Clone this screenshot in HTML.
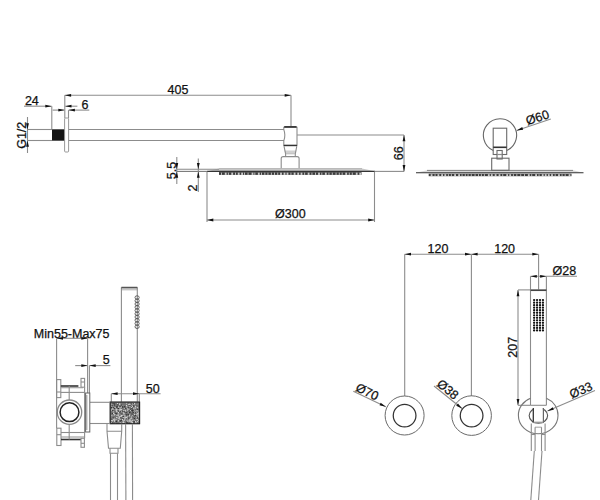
<!DOCTYPE html>
<html><head><meta charset="utf-8"><style>
html,body{margin:0;padding:0;background:#fff;}
body{width:600px;height:500px;overflow:hidden;}
svg{display:block;}
#w{width:600px;height:500px;}
text{font-family:"Liberation Sans", sans-serif;fill:#111;stroke:#111;stroke-width:0.25px;}
</style></head><body>
<div id="w"><svg width="600" height="500" viewBox="0 0 600 500">
<rect width="600" height="500" fill="#fff"/>
<line x1="27.5" y1="117" x2="27.5" y2="153" stroke="#8c8c8c" stroke-width="1.1"/>
<polygon points="27.50,129.50 26.10,123.20 28.90,123.20" fill="#111"/>
<polygon points="27.50,140.50 28.90,146.80 26.10,146.80" fill="#111"/>
<text x="0" y="0" font-size="12.5" text-anchor="middle" transform="translate(26.2,135.3) rotate(-90)">G1/2</text>
<line x1="27.5" y1="129.5" x2="52" y2="129.5" stroke="#8c8c8c" stroke-width="1.1"/>
<line x1="27.5" y1="140.5" x2="52" y2="140.5" stroke="#8c8c8c" stroke-width="1.1"/>
<rect x="52" y="129.3" width="12.50" height="11.40" rx="0" stroke="none" stroke-width="0" fill="#141414"/>
<rect x="64.6" y="118" width="4.00" height="34.00" rx="1" stroke="#8c8c8c" stroke-width="0.9" fill="none"/>
<line x1="68.6" y1="129.5" x2="284" y2="129.5" stroke="#8c8c8c" stroke-width="1.1"/>
<line x1="68.6" y1="140.5" x2="284" y2="140.5" stroke="#8c8c8c" stroke-width="1.1"/>
<line x1="24" y1="106.2" x2="51.6" y2="106.2" stroke="#8c8c8c" stroke-width="1.1"/>
<line x1="65.2" y1="106.2" x2="77.4" y2="106.2" stroke="#8c8c8c" stroke-width="1.1"/>
<polygon points="51.60,106.20 45.30,107.60 45.30,104.80" fill="#111"/>
<polygon points="65.20,106.20 71.50,104.80 71.50,107.60" fill="#111"/>
<line x1="51.8" y1="106.2" x2="51.8" y2="129.3" stroke="#8c8c8c" stroke-width="1.1"/>
<text x="24.9" y="104.9" font-size="12.5" text-anchor="start">24</text>
<line x1="52.6" y1="110.1" x2="64.5" y2="110.1" stroke="#8c8c8c" stroke-width="1.1"/>
<line x1="68.7" y1="110.1" x2="89.3" y2="110.1" stroke="#8c8c8c" stroke-width="1.1"/>
<polygon points="64.60,110.10 58.30,111.50 58.30,108.70" fill="#111"/>
<polygon points="68.60,110.10 74.90,108.70 74.90,111.50" fill="#111"/>
<line x1="68.5" y1="110.1" x2="68.5" y2="118" stroke="#8c8c8c" stroke-width="1.1"/>
<text x="81.5" y="108.5" font-size="12.5" text-anchor="start">6</text>
<line x1="64.8" y1="95.3" x2="291" y2="95.3" stroke="#8c8c8c" stroke-width="1.1"/>
<polygon points="64.80,95.30 71.10,93.90 71.10,96.70" fill="#111"/>
<polygon points="291.00,95.30 284.70,96.70 284.70,93.90" fill="#111"/>
<line x1="64.8" y1="95.3" x2="64.8" y2="118" stroke="#8c8c8c" stroke-width="1.1"/>
<line x1="291" y1="95.3" x2="291" y2="126" stroke="#8c8c8c" stroke-width="1.1"/>
<text x="167.5" y="94.2" font-size="12.5" text-anchor="start">405</text>
<path d="M283.8,127.2 H297 V145.4 H283.8 V140.8 Q285.9,135 283.8,129.6 Z" stroke="#8c8c8c" stroke-width="1.1" fill="none"/>
<line x1="284.2" y1="126.9" x2="296.6" y2="126.9" stroke="#333" stroke-width="1.7"/>
<line x1="283.8" y1="145.5" x2="297" y2="145.5" stroke="#333" stroke-width="1.4"/>
<path d="M284.4,150.5 L285.5,153.6 H295.4 L296.5,150.5 Z" stroke="none" stroke-width="0" fill="#d0d0d0"/>
<path d="M284,146.2 L285.6,153.8 V156.4 M296.8,146.2 L295.3,153.8 V156.4" stroke="#8c8c8c" stroke-width="1.1" fill="none"/>
<line x1="285.6" y1="153.8" x2="295.3" y2="153.8" stroke="#aaa" stroke-width="0.8"/>
<path d="M281.2,168.6 V158.6 Q281.2,156.6 283.2,156.6 H297.1 Q299.1,156.6 299.1,158.6 V168.6" stroke="#8c8c8c" stroke-width="1.1" fill="none"/>
<line x1="297" y1="135" x2="404" y2="135" stroke="#8c8c8c" stroke-width="1.1"/>
<line x1="375" y1="171.4" x2="404" y2="171.4" stroke="#8c8c8c" stroke-width="1.1"/>
<line x1="404" y1="135" x2="404" y2="171.4" stroke="#8c8c8c" stroke-width="1.1"/>
<polygon points="404.00,135.00 405.40,141.30 402.60,141.30" fill="#111"/>
<polygon points="404.00,171.40 402.60,165.10 405.40,165.10" fill="#111"/>
<text x="0" y="0" font-size="12.5" text-anchor="middle" transform="translate(402.5,153.3) rotate(-90)">66</text>
<path d="M207,171.3 L219,168.4 H362 L375,171.3 Z" stroke="none" stroke-width="0" fill="#c8c8c8"/>
<line x1="219" y1="168.6" x2="362" y2="168.6" stroke="#aaa" stroke-width="0.8"/>
<line x1="207" y1="171.4" x2="375" y2="171.4" stroke="#333" stroke-width="1.1"/>
<rect x="219" y="172.1" width="142.5" height="2.8" fill="#3c3c3c"/>
<rect x="221.0" y="172.66" width="0.9" height="2.24" fill="#fff" opacity="0.75"/>
<rect x="224.8" y="172.66" width="1.8" height="2.24" fill="#fff" opacity="0.75"/>
<rect x="227.9" y="172.66" width="0.9" height="2.24" fill="#fff" opacity="0.75"/>
<rect x="231.3" y="172.66" width="1.8" height="2.24" fill="#fff" opacity="0.75"/>
<rect x="235.0" y="172.66" width="0.9" height="2.24" fill="#fff" opacity="0.75"/>
<rect x="237.8" y="172.66" width="1.8" height="2.24" fill="#fff" opacity="0.75"/>
<rect x="241.2" y="172.66" width="1.8" height="2.24" fill="#fff" opacity="0.75"/>
<rect x="244.0" y="172.66" width="0.9" height="2.24" fill="#fff" opacity="0.75"/>
<rect x="247.6" y="172.66" width="0.9" height="2.24" fill="#fff" opacity="0.75"/>
<rect x="251.6" y="172.66" width="1.8" height="2.24" fill="#fff" opacity="0.75"/>
<rect x="254.4" y="172.66" width="0.9" height="2.24" fill="#fff" opacity="0.75"/>
<rect x="257.9" y="172.66" width="1.8" height="2.24" fill="#fff" opacity="0.75"/>
<rect x="261.1" y="172.66" width="0.9" height="2.24" fill="#fff" opacity="0.75"/>
<rect x="264.4" y="172.66" width="0.9" height="2.24" fill="#fff" opacity="0.75"/>
<rect x="267.5" y="172.66" width="0.9" height="2.24" fill="#fff" opacity="0.75"/>
<rect x="270.9" y="172.66" width="0.9" height="2.24" fill="#fff" opacity="0.75"/>
<rect x="274.0" y="172.66" width="0.9" height="2.24" fill="#fff" opacity="0.75"/>
<rect x="277.3" y="172.66" width="0.9" height="2.24" fill="#fff" opacity="0.75"/>
<rect x="280.1" y="172.66" width="1.8" height="2.24" fill="#fff" opacity="0.75"/>
<rect x="283.6" y="172.66" width="1.8" height="2.24" fill="#fff" opacity="0.75"/>
<rect x="286.6" y="172.66" width="1.8" height="2.24" fill="#fff" opacity="0.75"/>
<rect x="290.5" y="172.66" width="0.9" height="2.24" fill="#fff" opacity="0.75"/>
<rect x="293.7" y="172.66" width="1.8" height="2.24" fill="#fff" opacity="0.75"/>
<rect x="297.3" y="172.66" width="1.8" height="2.24" fill="#fff" opacity="0.75"/>
<rect x="300.6" y="172.66" width="1.8" height="2.24" fill="#fff" opacity="0.75"/>
<rect x="304.2" y="172.66" width="0.9" height="2.24" fill="#fff" opacity="0.75"/>
<rect x="307.7" y="172.66" width="1.8" height="2.24" fill="#fff" opacity="0.75"/>
<rect x="311.5" y="172.66" width="0.9" height="2.24" fill="#fff" opacity="0.75"/>
<rect x="315.0" y="172.66" width="0.9" height="2.24" fill="#fff" opacity="0.75"/>
<rect x="318.1" y="172.66" width="1.8" height="2.24" fill="#fff" opacity="0.75"/>
<rect x="321.4" y="172.66" width="0.9" height="2.24" fill="#fff" opacity="0.75"/>
<rect x="324.9" y="172.66" width="1.8" height="2.24" fill="#fff" opacity="0.75"/>
<rect x="328.5" y="172.66" width="0.9" height="2.24" fill="#fff" opacity="0.75"/>
<rect x="331.8" y="172.66" width="0.9" height="2.24" fill="#fff" opacity="0.75"/>
<rect x="335.6" y="172.66" width="0.9" height="2.24" fill="#fff" opacity="0.75"/>
<rect x="338.8" y="172.66" width="0.9" height="2.24" fill="#fff" opacity="0.75"/>
<rect x="341.7" y="172.66" width="0.9" height="2.24" fill="#fff" opacity="0.75"/>
<rect x="345.3" y="172.66" width="1.8" height="2.24" fill="#fff" opacity="0.75"/>
<rect x="348.8" y="172.66" width="0.9" height="2.24" fill="#fff" opacity="0.75"/>
<rect x="351.8" y="172.66" width="0.9" height="2.24" fill="#fff" opacity="0.75"/>
<rect x="355.8" y="172.66" width="1.8" height="2.24" fill="#fff" opacity="0.75"/>
<rect x="359.3" y="172.66" width="1.8" height="2.24" fill="#fff" opacity="0.75"/>
<line x1="176.8" y1="157" x2="176.8" y2="184" stroke="#8c8c8c" stroke-width="1.1"/>
<polygon points="176.80,169.20 175.40,162.90 178.20,162.90" fill="#111"/>
<polygon points="176.80,171.40 178.20,177.70 175.40,177.70" fill="#111"/>
<line x1="176.8" y1="169.2" x2="219" y2="169.2" stroke="#888" stroke-width="1.1"/>
<line x1="176.8" y1="171.4" x2="207" y2="171.4" stroke="#777" stroke-width="1.1"/>
<text x="0" y="0" font-size="12.5" text-anchor="middle" transform="translate(175.5,170.5) rotate(-90)">5.5</text>
<line x1="198.3" y1="158.5" x2="198.3" y2="192" stroke="#8c8c8c" stroke-width="1.1"/>
<polygon points="198.30,169.20 196.90,162.90 199.70,162.90" fill="#111"/>
<polygon points="198.30,171.40 199.70,177.70 196.90,177.70" fill="#111"/>
<text x="0" y="0" font-size="12.5" text-anchor="middle" transform="translate(196.8,188) rotate(-90)">2</text>
<line x1="207" y1="171.4" x2="207" y2="222" stroke="#8c8c8c" stroke-width="1.1"/>
<line x1="374.5" y1="171.4" x2="374.5" y2="222" stroke="#8c8c8c" stroke-width="1.1"/>
<line x1="207" y1="220" x2="374.5" y2="220" stroke="#8c8c8c" stroke-width="1.1"/>
<polygon points="207.00,220.00 213.30,218.60 213.30,221.40" fill="#111"/>
<polygon points="374.50,220.00 368.20,221.40 368.20,218.60" fill="#111"/>
<text x="275.0" y="218.2" font-size="12.5" text-anchor="start">&#216;300</text>
<path d="M416,172.8 L427,170.3 H573 L583.5,172.8 Z" stroke="none" stroke-width="0" fill="#d8d8d8"/>
<line x1="427" y1="170.4" x2="573" y2="170.4" stroke="#777" stroke-width="0.9"/>
<line x1="416" y1="172.8" x2="583.5" y2="172.8" stroke="#333" stroke-width="1.1"/>
<rect x="428.7" y="173.7" width="142.8" height="2.5" fill="#3c3c3c"/>
<rect x="430.7" y="174.20" width="1.8" height="2.00" fill="#fff" opacity="0.75"/>
<rect x="434.6" y="174.20" width="0.9" height="2.00" fill="#fff" opacity="0.75"/>
<rect x="437.5" y="174.20" width="1.8" height="2.00" fill="#fff" opacity="0.75"/>
<rect x="441.2" y="174.20" width="1.8" height="2.00" fill="#fff" opacity="0.75"/>
<rect x="444.4" y="174.20" width="1.8" height="2.00" fill="#fff" opacity="0.75"/>
<rect x="447.9" y="174.20" width="0.9" height="2.00" fill="#fff" opacity="0.75"/>
<rect x="450.9" y="174.20" width="0.9" height="2.00" fill="#fff" opacity="0.75"/>
<rect x="454.2" y="174.20" width="1.8" height="2.00" fill="#fff" opacity="0.75"/>
<rect x="458.2" y="174.20" width="1.8" height="2.00" fill="#fff" opacity="0.75"/>
<rect x="461.6" y="174.20" width="0.9" height="2.00" fill="#fff" opacity="0.75"/>
<rect x="464.8" y="174.20" width="0.9" height="2.00" fill="#fff" opacity="0.75"/>
<rect x="467.6" y="174.20" width="0.9" height="2.00" fill="#fff" opacity="0.75"/>
<rect x="470.8" y="174.20" width="0.9" height="2.00" fill="#fff" opacity="0.75"/>
<rect x="474.6" y="174.20" width="0.9" height="2.00" fill="#fff" opacity="0.75"/>
<rect x="478.1" y="174.20" width="0.9" height="2.00" fill="#fff" opacity="0.75"/>
<rect x="480.9" y="174.20" width="0.9" height="2.00" fill="#fff" opacity="0.75"/>
<rect x="483.9" y="174.20" width="0.9" height="2.00" fill="#fff" opacity="0.75"/>
<rect x="487.9" y="174.20" width="1.8" height="2.00" fill="#fff" opacity="0.75"/>
<rect x="490.9" y="174.20" width="1.8" height="2.00" fill="#fff" opacity="0.75"/>
<rect x="494.7" y="174.20" width="1.8" height="2.00" fill="#fff" opacity="0.75"/>
<rect x="498.6" y="174.20" width="1.8" height="2.00" fill="#fff" opacity="0.75"/>
<rect x="502.3" y="174.20" width="0.9" height="2.00" fill="#fff" opacity="0.75"/>
<rect x="506.3" y="174.20" width="1.8" height="2.00" fill="#fff" opacity="0.75"/>
<rect x="509.3" y="174.20" width="1.8" height="2.00" fill="#fff" opacity="0.75"/>
<rect x="512.9" y="174.20" width="0.9" height="2.00" fill="#fff" opacity="0.75"/>
<rect x="516.4" y="174.20" width="0.9" height="2.00" fill="#fff" opacity="0.75"/>
<rect x="520.3" y="174.20" width="0.9" height="2.00" fill="#fff" opacity="0.75"/>
<rect x="524.1" y="174.20" width="0.9" height="2.00" fill="#fff" opacity="0.75"/>
<rect x="527.9" y="174.20" width="1.8" height="2.00" fill="#fff" opacity="0.75"/>
<rect x="531.3" y="174.20" width="0.9" height="2.00" fill="#fff" opacity="0.75"/>
<rect x="535.2" y="174.20" width="1.8" height="2.00" fill="#fff" opacity="0.75"/>
<rect x="538.6" y="174.20" width="0.9" height="2.00" fill="#fff" opacity="0.75"/>
<rect x="541.8" y="174.20" width="1.8" height="2.00" fill="#fff" opacity="0.75"/>
<rect x="544.8" y="174.20" width="1.8" height="2.00" fill="#fff" opacity="0.75"/>
<rect x="547.9" y="174.20" width="1.8" height="2.00" fill="#fff" opacity="0.75"/>
<rect x="551.1" y="174.20" width="1.8" height="2.00" fill="#fff" opacity="0.75"/>
<rect x="554.7" y="174.20" width="0.9" height="2.00" fill="#fff" opacity="0.75"/>
<rect x="558.1" y="174.20" width="1.8" height="2.00" fill="#fff" opacity="0.75"/>
<rect x="561.6" y="174.20" width="0.9" height="2.00" fill="#fff" opacity="0.75"/>
<rect x="564.7" y="174.20" width="0.9" height="2.00" fill="#fff" opacity="0.75"/>
<rect x="568.6" y="174.20" width="1.8" height="2.00" fill="#fff" opacity="0.75"/>
<path d="M493.3,150.5 A16.6,16.6 0 1 1 506.7,150.5" stroke="#666" stroke-width="1.1" fill="none"/>
<rect x="493.2" y="128.2" width="13.50" height="26.30" rx="0" stroke="#6a6a6a" stroke-width="1.1" fill="none"/>
<line x1="493.2" y1="147.3" x2="506.7" y2="147.3" stroke="#333" stroke-width="1.6"/>
<rect x="497" y="150.5" width="5.20" height="8.50" rx="0" stroke="#6a6a6a" stroke-width="1.1" fill="none"/>
<rect x="491.7" y="158.2" width="17.30" height="12.10" rx="0" stroke="#6a6a6a" stroke-width="1.1" fill="none"/>
<line x1="497" y1="154.5" x2="502.2" y2="154.5" stroke="#8c8c8c" stroke-width="1.1"/>
<line x1="516.7" y1="130.4" x2="550.8" y2="119" stroke="#8c8c8c" stroke-width="1.1"/>
<polygon points="516.70,130.40 522.23,127.07 523.12,129.73" fill="#111"/>
<text x="0" y="0" font-size="12.5" text-anchor="middle" transform="translate(538.8,121.5) rotate(-18.5)">&#216;60</text>
<text x="33.8" y="337.8" font-size="12.5" text-anchor="start">Min55-Max75</text>
<line x1="56.7" y1="338.3" x2="87.6" y2="338.3" stroke="#8c8c8c" stroke-width="1.1"/>
<polygon points="56.70,338.30 63.00,336.90 63.00,339.70" fill="#111"/>
<polygon points="87.60,338.30 81.30,339.70 81.30,336.90" fill="#111"/>
<line x1="56.6" y1="338.3" x2="56.6" y2="428.3" stroke="#8c8c8c" stroke-width="1.1"/>
<line x1="87.6" y1="338.3" x2="87.6" y2="393" stroke="#8c8c8c" stroke-width="1.1"/>
<line x1="75.2" y1="365.6" x2="87.6" y2="365.6" stroke="#8c8c8c" stroke-width="1.1"/>
<line x1="89.4" y1="365.6" x2="110.4" y2="365.6" stroke="#8c8c8c" stroke-width="1.1"/>
<polygon points="87.60,365.60 81.30,367.00 81.30,364.20" fill="#111"/>
<polygon points="89.40,365.60 95.70,364.20 95.70,367.00" fill="#111"/>
<line x1="89.4" y1="365.6" x2="89.4" y2="393" stroke="#8c8c8c" stroke-width="1.1"/>
<text x="102.7" y="364.2" font-size="12.5" text-anchor="start">5</text>
<line x1="121.4" y1="287.3" x2="121.4" y2="402" stroke="#8c8c8c" stroke-width="1.1"/>
<line x1="137.3" y1="287.3" x2="137.3" y2="402" stroke="#8c8c8c" stroke-width="1.1"/>
<line x1="121.4" y1="287.6" x2="137.3" y2="287.6" stroke="#555" stroke-width="1.7"/>
<line x1="121.4" y1="289.8" x2="137.3" y2="289.8" stroke="#8c8c8c" stroke-width="0.7"/>
<ellipse cx="137.1" cy="297.5" rx="2.1" ry="1.75" stroke="#555" stroke-width="0.9" fill="none"/>
<ellipse cx="137.1" cy="300.75" rx="2.1" ry="1.75" stroke="#555" stroke-width="0.9" fill="none"/>
<ellipse cx="137.1" cy="304.0" rx="2.1" ry="1.75" stroke="#555" stroke-width="0.9" fill="none"/>
<ellipse cx="137.1" cy="307.25" rx="2.1" ry="1.75" stroke="#555" stroke-width="0.9" fill="none"/>
<ellipse cx="137.1" cy="310.5" rx="2.1" ry="1.75" stroke="#555" stroke-width="0.9" fill="none"/>
<ellipse cx="137.1" cy="313.75" rx="2.1" ry="1.75" stroke="#555" stroke-width="0.9" fill="none"/>
<ellipse cx="137.1" cy="317.0" rx="2.1" ry="1.75" stroke="#555" stroke-width="0.9" fill="none"/>
<ellipse cx="137.1" cy="320.25" rx="2.1" ry="1.75" stroke="#555" stroke-width="0.9" fill="none"/>
<ellipse cx="137.1" cy="323.5" rx="2.1" ry="1.75" stroke="#555" stroke-width="0.9" fill="none"/>
<ellipse cx="137.1" cy="326.75" rx="2.1" ry="1.75" stroke="#555" stroke-width="0.9" fill="none"/>
<line x1="111.3" y1="393.7" x2="160.6" y2="393.7" stroke="#8c8c8c" stroke-width="1.1"/>
<polygon points="111.30,393.70 117.60,392.30 117.60,395.10" fill="#111"/>
<polygon points="139.30,393.70 133.00,395.10 133.00,392.30" fill="#111"/>
<line x1="111.3" y1="393.7" x2="111.3" y2="402" stroke="#8c8c8c" stroke-width="1.1"/>
<line x1="139.3" y1="393.7" x2="139.3" y2="402" stroke="#8c8c8c" stroke-width="1.1"/>
<text x="145.7" y="392.5" font-size="12.5" text-anchor="start">50</text>
<rect x="110.2" y="402.1" width="29.40" height="21.60" rx="0" stroke="#8c8c8c" stroke-width="0.9" fill="#747474"/>
<rect x="117.5" y="413.8" width="1" height="1" fill="#d8d8d8"/>
<rect x="121.3" y="415.0" width="1" height="1" fill="#d8d8d8"/>
<rect x="128.5" y="403.9" width="1" height="1" fill="#d8d8d8"/>
<rect x="111.2" y="419.8" width="1" height="1" fill="#d8d8d8"/>
<rect x="118.1" y="407.4" width="1" height="1" fill="#d8d8d8"/>
<rect x="139.0" y="412.2" width="1" height="1" fill="#d8d8d8"/>
<rect x="134.5" y="412.4" width="1" height="1" fill="#d8d8d8"/>
<rect x="128.9" y="405.7" width="1" height="1" fill="#d8d8d8"/>
<rect x="128.8" y="420.4" width="1" height="1" fill="#d8d8d8"/>
<rect x="125.6" y="417.8" width="1" height="1" fill="#d8d8d8"/>
<rect x="129.8" y="403.9" width="1" height="1" fill="#d8d8d8"/>
<rect x="132.3" y="414.7" width="1" height="1" fill="#d8d8d8"/>
<rect x="119.3" y="403.2" width="1" height="1" fill="#d8d8d8"/>
<rect x="135.3" y="412.3" width="1" height="1" fill="#d8d8d8"/>
<rect x="131.1" y="420.6" width="1" height="1" fill="#d8d8d8"/>
<rect x="131.0" y="421.5" width="1" height="1" fill="#d8d8d8"/>
<rect x="122.0" y="419.0" width="1" height="1" fill="#d8d8d8"/>
<rect x="123.4" y="421.8" width="1" height="1" fill="#d8d8d8"/>
<rect x="135.7" y="404.6" width="1" height="1" fill="#d8d8d8"/>
<rect x="114.6" y="407.0" width="1" height="1" fill="#d8d8d8"/>
<rect x="138.1" y="411.5" width="1" height="1" fill="#d8d8d8"/>
<rect x="128.5" y="408.8" width="1" height="1" fill="#d8d8d8"/>
<rect x="125.2" y="410.5" width="1" height="1" fill="#d8d8d8"/>
<rect x="120.7" y="414.6" width="1" height="1" fill="#d8d8d8"/>
<rect x="127.3" y="421.1" width="1" height="1" fill="#d8d8d8"/>
<rect x="130.1" y="421.6" width="1" height="1" fill="#d8d8d8"/>
<rect x="135.0" y="422.9" width="1" height="1" fill="#d8d8d8"/>
<rect x="129.8" y="405.9" width="1" height="1" fill="#d8d8d8"/>
<rect x="135.2" y="422.4" width="1" height="1" fill="#d8d8d8"/>
<rect x="136.4" y="414.3" width="1" height="1" fill="#d8d8d8"/>
<rect x="131.0" y="406.9" width="1" height="1" fill="#d8d8d8"/>
<rect x="134.3" y="414.4" width="1" height="1" fill="#d8d8d8"/>
<rect x="118.9" y="403.9" width="1" height="1" fill="#d8d8d8"/>
<rect x="135.0" y="422.9" width="1" height="1" fill="#d8d8d8"/>
<rect x="113.3" y="419.0" width="1" height="1" fill="#d8d8d8"/>
<rect x="122.4" y="405.7" width="1" height="1" fill="#d8d8d8"/>
<rect x="119.1" y="418.4" width="1" height="1" fill="#d8d8d8"/>
<rect x="135.5" y="403.5" width="1" height="1" fill="#d8d8d8"/>
<rect x="128.2" y="403.5" width="1" height="1" fill="#d8d8d8"/>
<rect x="131.1" y="409.4" width="1" height="1" fill="#d8d8d8"/>
<rect x="135.7" y="422.7" width="1" height="1" fill="#d8d8d8"/>
<rect x="125.1" y="423.1" width="1" height="1" fill="#d8d8d8"/>
<rect x="119.6" y="404.2" width="1" height="1" fill="#d8d8d8"/>
<rect x="127.8" y="403.2" width="1" height="1" fill="#d8d8d8"/>
<rect x="116.4" y="411.0" width="1" height="1" fill="#d8d8d8"/>
<rect x="128.1" y="405.8" width="1" height="1" fill="#d8d8d8"/>
<rect x="112.0" y="420.4" width="1" height="1" fill="#d8d8d8"/>
<rect x="119.7" y="422.3" width="1" height="1" fill="#d8d8d8"/>
<rect x="136.2" y="410.3" width="1" height="1" fill="#d8d8d8"/>
<rect x="123.8" y="413.3" width="1" height="1" fill="#d8d8d8"/>
<rect x="129.0" y="414.8" width="1" height="1" fill="#d8d8d8"/>
<rect x="126.6" y="415.3" width="1" height="1" fill="#d8d8d8"/>
<rect x="137.4" y="413.0" width="1" height="1" fill="#d8d8d8"/>
<rect x="123.0" y="417.4" width="1" height="1" fill="#d8d8d8"/>
<rect x="117.5" y="408.8" width="1" height="1" fill="#d8d8d8"/>
<rect x="138.5" y="413.3" width="1" height="1" fill="#d8d8d8"/>
<rect x="126.3" y="402.8" width="1" height="1" fill="#d8d8d8"/>
<rect x="122.6" y="414.5" width="1" height="1" fill="#d8d8d8"/>
<rect x="111.4" y="415.2" width="1" height="1" fill="#d8d8d8"/>
<rect x="128.7" y="403.8" width="1" height="1" fill="#d8d8d8"/>
<rect x="128.6" y="412.2" width="1" height="1" fill="#d8d8d8"/>
<rect x="130.0" y="409.8" width="1" height="1" fill="#d8d8d8"/>
<rect x="130.8" y="417.7" width="1" height="1" fill="#d8d8d8"/>
<rect x="111.4" y="403.8" width="1" height="1" fill="#d8d8d8"/>
<rect x="129.9" y="422.3" width="1" height="1" fill="#d8d8d8"/>
<rect x="117.9" y="412.0" width="1" height="1" fill="#d8d8d8"/>
<rect x="127.6" y="409.2" width="1" height="1" fill="#d8d8d8"/>
<rect x="121.1" y="409.0" width="1" height="1" fill="#d8d8d8"/>
<rect x="121.2" y="414.8" width="1" height="1" fill="#d8d8d8"/>
<rect x="119.3" y="410.3" width="1" height="1" fill="#d8d8d8"/>
<rect x="132.7" y="403.2" width="1" height="1" fill="#d8d8d8"/>
<rect x="126.9" y="417.7" width="1" height="1" fill="#d8d8d8"/>
<rect x="119.6" y="407.2" width="1" height="1" fill="#d8d8d8"/>
<rect x="133.5" y="407.5" width="1" height="1" fill="#d8d8d8"/>
<rect x="116.1" y="411.5" width="1" height="1" fill="#d8d8d8"/>
<rect x="130.6" y="404.7" width="1" height="1" fill="#d8d8d8"/>
<rect x="119.9" y="409.4" width="1" height="1" fill="#d8d8d8"/>
<rect x="134.4" y="411.6" width="1" height="1" fill="#d8d8d8"/>
<rect x="135.0" y="406.1" width="1" height="1" fill="#d8d8d8"/>
<rect x="120.3" y="415.9" width="1" height="1" fill="#d8d8d8"/>
<rect x="135.8" y="411.8" width="1" height="1" fill="#d8d8d8"/>
<rect x="117.2" y="405.1" width="1" height="1" fill="#d8d8d8"/>
<rect x="125.8" y="406.5" width="1" height="1" fill="#d8d8d8"/>
<rect x="133.6" y="419.8" width="1" height="1" fill="#d8d8d8"/>
<rect x="116.0" y="408.3" width="1" height="1" fill="#d8d8d8"/>
<rect x="133.6" y="415.8" width="1" height="1" fill="#d8d8d8"/>
<rect x="133.6" y="409.7" width="1" height="1" fill="#d8d8d8"/>
<rect x="114.5" y="408.6" width="1" height="1" fill="#d8d8d8"/>
<rect x="133.3" y="408.2" width="1" height="1" fill="#d8d8d8"/>
<rect x="120.6" y="411.1" width="1" height="1" fill="#d8d8d8"/>
<rect x="122.7" y="411.0" width="1" height="1" fill="#d8d8d8"/>
<rect x="136.9" y="405.8" width="1" height="1" fill="#d8d8d8"/>
<rect x="110.9" y="421.9" width="1" height="1" fill="#d8d8d8"/>
<rect x="135.7" y="422.8" width="1" height="1" fill="#d8d8d8"/>
<rect x="123.1" y="422.1" width="1" height="1" fill="#d8d8d8"/>
<rect x="137.0" y="407.2" width="1" height="1" fill="#d8d8d8"/>
<rect x="131.9" y="419.8" width="1" height="1" fill="#d8d8d8"/>
<rect x="129.6" y="413.2" width="1" height="1" fill="#d8d8d8"/>
<rect x="119.0" y="409.6" width="1" height="1" fill="#d8d8d8"/>
<rect x="117.2" y="404.0" width="1" height="1" fill="#d8d8d8"/>
<rect x="127.5" y="408.5" width="1" height="1" fill="#d8d8d8"/>
<rect x="133.7" y="403.5" width="1" height="1" fill="#d8d8d8"/>
<rect x="136.4" y="416.8" width="1" height="1" fill="#d8d8d8"/>
<rect x="136.9" y="421.0" width="1" height="1" fill="#d8d8d8"/>
<rect x="136.3" y="414.4" width="1" height="1" fill="#d8d8d8"/>
<rect x="111.2" y="417.9" width="1" height="1" fill="#d8d8d8"/>
<rect x="115.7" y="408.7" width="1" height="1" fill="#d8d8d8"/>
<rect x="129.6" y="413.4" width="1" height="1" fill="#d8d8d8"/>
<rect x="122.5" y="421.9" width="1" height="1" fill="#d8d8d8"/>
<rect x="128.1" y="409.6" width="1" height="1" fill="#d8d8d8"/>
<rect x="117.9" y="420.3" width="1" height="1" fill="#d8d8d8"/>
<rect x="124.3" y="418.6" width="1" height="1" fill="#d8d8d8"/>
<rect x="120.8" y="406.6" width="1" height="1" fill="#d8d8d8"/>
<rect x="125.9" y="419.3" width="1" height="1" fill="#d8d8d8"/>
<rect x="115.6" y="418.8" width="1" height="1" fill="#d8d8d8"/>
<rect x="136.9" y="419.1" width="1" height="1" fill="#d8d8d8"/>
<rect x="134.1" y="402.8" width="1" height="1" fill="#d8d8d8"/>
<rect x="128.6" y="420.3" width="1" height="1" fill="#d8d8d8"/>
<rect x="112.2" y="408.2" width="1" height="1" fill="#d8d8d8"/>
<rect x="118.4" y="413.4" width="1" height="1" fill="#d8d8d8"/>
<rect x="122.8" y="412.3" width="1" height="1" fill="#d8d8d8"/>
<rect x="132.8" y="402.6" width="1" height="1" fill="#d8d8d8"/>
<rect x="112.4" y="405.2" width="1" height="1" fill="#d8d8d8"/>
<rect x="114.3" y="404.0" width="1" height="1" fill="#d8d8d8"/>
<rect x="138.4" y="420.1" width="1" height="1" fill="#d8d8d8"/>
<rect x="113.2" y="412.9" width="1" height="1" fill="#d8d8d8"/>
<rect x="119.7" y="409.0" width="1" height="1" fill="#d8d8d8"/>
<rect x="120.7" y="415.9" width="1" height="1" fill="#d8d8d8"/>
<rect x="127.4" y="410.0" width="1" height="1" fill="#d8d8d8"/>
<rect x="116.2" y="409.3" width="1" height="1" fill="#d8d8d8"/>
<rect x="114.3" y="414.0" width="1" height="1" fill="#d8d8d8"/>
<rect x="131.1" y="410.4" width="1" height="1" fill="#d8d8d8"/>
<rect x="113.1" y="406.3" width="1" height="1" fill="#d8d8d8"/>
<rect x="121.4" y="415.0" width="1" height="1" fill="#d8d8d8"/>
<rect x="132.9" y="410.4" width="1" height="1" fill="#d8d8d8"/>
<rect x="133.5" y="415.4" width="1" height="1" fill="#d8d8d8"/>
<rect x="123.0" y="410.2" width="1" height="1" fill="#d8d8d8"/>
<rect x="124.8" y="417.0" width="1" height="1" fill="#d8d8d8"/>
<rect x="122.7" y="416.8" width="1" height="1" fill="#d8d8d8"/>
<rect x="123.8" y="407.6" width="1" height="1" fill="#d8d8d8"/>
<rect x="126.0" y="416.9" width="1" height="1" fill="#d8d8d8"/>
<rect x="112.8" y="411.3" width="1" height="1" fill="#d8d8d8"/>
<rect x="122.9" y="420.6" width="1" height="1" fill="#d8d8d8"/>
<rect x="137.3" y="410.3" width="1" height="1" fill="#d8d8d8"/>
<rect x="136.2" y="418.8" width="1" height="1" fill="#d8d8d8"/>
<rect x="118.2" y="412.1" width="1" height="1" fill="#d8d8d8"/>
<rect x="114.3" y="419.3" width="1" height="1" fill="#d8d8d8"/>
<rect x="129.5" y="420.8" width="1" height="1" fill="#d8d8d8"/>
<rect x="133.2" y="416.3" width="1" height="1" fill="#d8d8d8"/>
<rect x="131.6" y="414.2" width="1" height="1" fill="#d8d8d8"/>
<rect x="113.7" y="414.6" width="1" height="1" fill="#d8d8d8"/>
<rect x="110.9" y="405.5" width="1" height="1" fill="#d8d8d8"/>
<rect x="132.7" y="403.5" width="1" height="1" fill="#d8d8d8"/>
<rect x="113.4" y="404.6" width="1" height="1" fill="#d8d8d8"/>
<rect x="135.7" y="406.3" width="1" height="1" fill="#d8d8d8"/>
<rect x="111.5" y="419.9" width="1" height="1" fill="#d8d8d8"/>
<rect x="114.2" y="419.9" width="1" height="1" fill="#d8d8d8"/>
<rect x="129.9" y="419.7" width="1" height="1" fill="#d8d8d8"/>
<rect x="137.8" y="414.5" width="1" height="1" fill="#d8d8d8"/>
<rect x="133.4" y="403.3" width="1" height="1" fill="#d8d8d8"/>
<rect x="132.5" y="413.1" width="1" height="1" fill="#d8d8d8"/>
<rect x="131.0" y="404.8" width="1" height="1" fill="#d8d8d8"/>
<rect x="132.0" y="421.8" width="1" height="1" fill="#d8d8d8"/>
<rect x="112.5" y="409.2" width="1" height="1" fill="#d8d8d8"/>
<rect x="126.8" y="419.6" width="1" height="1" fill="#d8d8d8"/>
<rect x="117.7" y="406.3" width="1" height="1" fill="#d8d8d8"/>
<rect x="117.9" y="415.2" width="1" height="1" fill="#d8d8d8"/>
<rect x="132.1" y="410.7" width="1" height="1" fill="#d8d8d8"/>
<rect x="121.2" y="410.7" width="1" height="1" fill="#d8d8d8"/>
<rect x="120.7" y="411.2" width="1" height="1" fill="#d8d8d8"/>
<rect x="113.2" y="412.9" width="1" height="1" fill="#d8d8d8"/>
<rect x="138.3" y="411.1" width="1" height="1" fill="#d8d8d8"/>
<rect x="132.0" y="405.9" width="1" height="1" fill="#d8d8d8"/>
<rect x="130.4" y="418.1" width="1" height="1" fill="#d8d8d8"/>
<rect x="129.9" y="413.2" width="1" height="1" fill="#d8d8d8"/>
<rect x="124.5" y="415.8" width="1" height="1" fill="#d8d8d8"/>
<rect x="136.2" y="405.7" width="1" height="1" fill="#d8d8d8"/>
<rect x="113.5" y="417.9" width="1" height="1" fill="#d8d8d8"/>
<rect x="136.7" y="413.2" width="1" height="1" fill="#d8d8d8"/>
<rect x="123.3" y="417.3" width="1" height="1" fill="#d8d8d8"/>
<rect x="116.1" y="408.1" width="1" height="1" fill="#d8d8d8"/>
<rect x="116.4" y="414.6" width="1" height="1" fill="#d8d8d8"/>
<rect x="119.7" y="407.4" width="1" height="1" fill="#d8d8d8"/>
<rect x="130.4" y="422.1" width="1" height="1" fill="#d8d8d8"/>
<rect x="119.2" y="417.1" width="1" height="1" fill="#d8d8d8"/>
<rect x="122.5" y="420.1" width="1" height="1" fill="#d8d8d8"/>
<rect x="127.3" y="408.1" width="1" height="1" fill="#d8d8d8"/>
<rect x="117.0" y="403.1" width="1" height="1" fill="#d8d8d8"/>
<rect x="124.4" y="410.4" width="1" height="1" fill="#d8d8d8"/>
<rect x="115.7" y="410.0" width="1" height="1" fill="#d8d8d8"/>
<rect x="119.9" y="418.5" width="1" height="1" fill="#d8d8d8"/>
<rect x="114.9" y="422.9" width="1" height="1" fill="#d8d8d8"/>
<rect x="124.4" y="414.9" width="1" height="1" fill="#d8d8d8"/>
<rect x="124.0" y="419.7" width="1" height="1" fill="#d8d8d8"/>
<rect x="134.1" y="414.0" width="1" height="1" fill="#d8d8d8"/>
<rect x="124.4" y="417.4" width="1" height="1" fill="#d8d8d8"/>
<rect x="135.0" y="410.8" width="1" height="1" fill="#d8d8d8"/>
<rect x="131.6" y="422.3" width="1" height="1" fill="#d8d8d8"/>
<rect x="124.0" y="407.3" width="1" height="1" fill="#d8d8d8"/>
<rect x="117.4" y="417.3" width="1" height="1" fill="#d8d8d8"/>
<rect x="129.9" y="422.3" width="1" height="1" fill="#d8d8d8"/>
<rect x="135.0" y="407.6" width="1" height="1" fill="#d8d8d8"/>
<rect x="116.2" y="407.9" width="1" height="1" fill="#d8d8d8"/>
<rect x="116.1" y="417.0" width="1" height="1" fill="#d8d8d8"/>
<rect x="135.1" y="421.0" width="1" height="1" fill="#d8d8d8"/>
<rect x="118.0" y="420.3" width="1" height="1" fill="#d8d8d8"/>
<rect x="119.7" y="411.3" width="1" height="1" fill="#d8d8d8"/>
<rect x="131.4" y="404.4" width="1" height="1" fill="#d8d8d8"/>
<rect x="113.4" y="419.7" width="1" height="1" fill="#d8d8d8"/>
<rect x="119.1" y="409.9" width="1" height="1" fill="#d8d8d8"/>
<rect x="127.2" y="416.4" width="1" height="1" fill="#d8d8d8"/>
<rect x="111.0" y="409.5" width="1" height="1" fill="#d8d8d8"/>
<rect x="123.1" y="412.6" width="1" height="1" fill="#d8d8d8"/>
<rect x="116.7" y="414.6" width="1" height="1" fill="#d8d8d8"/>
<rect x="137.8" y="410.6" width="1" height="1" fill="#d8d8d8"/>
<rect x="126.2" y="405.0" width="1" height="1" fill="#d8d8d8"/>
<rect x="118.6" y="416.2" width="1" height="1" fill="#d8d8d8"/>
<rect x="114.0" y="420.8" width="1" height="1" fill="#d8d8d8"/>
<rect x="136.5" y="404.6" width="1" height="1" fill="#d8d8d8"/>
<rect x="137.4" y="410.3" width="1" height="1" fill="#d8d8d8"/>
<rect x="132.7" y="418.1" width="1" height="1" fill="#d8d8d8"/>
<rect x="119.2" y="416.5" width="1" height="1" fill="#d8d8d8"/>
<rect x="129.3" y="419.1" width="1" height="1" fill="#d8d8d8"/>
<rect x="118.3" y="418.1" width="1" height="1" fill="#d8d8d8"/>
<rect x="138.0" y="416.4" width="1" height="1" fill="#d8d8d8"/>
<rect x="126.0" y="404.9" width="1" height="1" fill="#d8d8d8"/>
<rect x="124.8" y="409.8" width="1" height="1" fill="#d8d8d8"/>
<rect x="131.1" y="416.5" width="1" height="1" fill="#d8d8d8"/>
<rect x="126.8" y="406.3" width="1" height="1" fill="#d8d8d8"/>
<rect x="129.1" y="415.5" width="1" height="1" fill="#d8d8d8"/>
<rect x="115.9" y="420.8" width="1.1" height="1.1" fill="#333"/>
<rect x="129.3" y="405.1" width="1.1" height="1.1" fill="#333"/>
<rect x="137.2" y="405.5" width="1.1" height="1.1" fill="#333"/>
<rect x="120.2" y="417.4" width="1.1" height="1.1" fill="#333"/>
<rect x="127.7" y="414.0" width="1.1" height="1.1" fill="#333"/>
<rect x="129.1" y="412.0" width="1.1" height="1.1" fill="#333"/>
<rect x="119.6" y="406.2" width="1.1" height="1.1" fill="#333"/>
<rect x="112.7" y="417.3" width="1.1" height="1.1" fill="#333"/>
<rect x="132.2" y="413.7" width="1.1" height="1.1" fill="#333"/>
<rect x="131.7" y="410.0" width="1.1" height="1.1" fill="#333"/>
<rect x="118.3" y="410.5" width="1.1" height="1.1" fill="#333"/>
<rect x="135.5" y="403.5" width="1.1" height="1.1" fill="#333"/>
<rect x="125.1" y="407.7" width="1.1" height="1.1" fill="#333"/>
<rect x="132.6" y="409.9" width="1.1" height="1.1" fill="#333"/>
<rect x="120.2" y="410.9" width="1.1" height="1.1" fill="#333"/>
<rect x="126.1" y="418.4" width="1.1" height="1.1" fill="#333"/>
<rect x="120.8" y="420.0" width="1.1" height="1.1" fill="#333"/>
<rect x="114.0" y="408.1" width="1.1" height="1.1" fill="#333"/>
<rect x="113.6" y="404.9" width="1.1" height="1.1" fill="#333"/>
<rect x="132.8" y="417.5" width="1.1" height="1.1" fill="#333"/>
<rect x="116.0" y="406.5" width="1.1" height="1.1" fill="#333"/>
<rect x="122.6" y="417.8" width="1.1" height="1.1" fill="#333"/>
<rect x="133.9" y="417.9" width="1.1" height="1.1" fill="#333"/>
<rect x="127.6" y="405.6" width="1.1" height="1.1" fill="#333"/>
<rect x="122.1" y="406.6" width="1.1" height="1.1" fill="#333"/>
<rect x="125.7" y="414.3" width="1.1" height="1.1" fill="#333"/>
<rect x="116.5" y="407.7" width="1.1" height="1.1" fill="#333"/>
<rect x="132.9" y="403.2" width="1.1" height="1.1" fill="#333"/>
<rect x="133.5" y="420.9" width="1.1" height="1.1" fill="#333"/>
<rect x="137.7" y="410.5" width="1.1" height="1.1" fill="#333"/>
<rect x="126.4" y="414.6" width="1.1" height="1.1" fill="#333"/>
<rect x="128.7" y="422.6" width="1.1" height="1.1" fill="#333"/>
<rect x="130.2" y="408.7" width="1.1" height="1.1" fill="#333"/>
<rect x="135.1" y="412.5" width="1.1" height="1.1" fill="#333"/>
<rect x="127.8" y="417.5" width="1.1" height="1.1" fill="#333"/>
<rect x="110.9" y="418.4" width="1.1" height="1.1" fill="#333"/>
<rect x="129.5" y="412.7" width="1.1" height="1.1" fill="#333"/>
<rect x="125.6" y="412.0" width="1.1" height="1.1" fill="#333"/>
<rect x="116.3" y="413.5" width="1.1" height="1.1" fill="#333"/>
<rect x="111.8" y="412.9" width="1.1" height="1.1" fill="#333"/>
<rect x="129.1" y="411.7" width="1.1" height="1.1" fill="#333"/>
<rect x="126.8" y="422.3" width="1.1" height="1.1" fill="#333"/>
<rect x="136.0" y="405.4" width="1.1" height="1.1" fill="#333"/>
<rect x="133.2" y="415.4" width="1.1" height="1.1" fill="#333"/>
<rect x="112.2" y="410.0" width="1.1" height="1.1" fill="#333"/>
<rect x="117.4" y="404.2" width="1.1" height="1.1" fill="#333"/>
<rect x="126.1" y="421.7" width="1.1" height="1.1" fill="#333"/>
<rect x="119.9" y="420.4" width="1.1" height="1.1" fill="#333"/>
<rect x="130.5" y="405.4" width="1.1" height="1.1" fill="#333"/>
<rect x="135.1" y="414.9" width="1.1" height="1.1" fill="#333"/>
<rect x="137.0" y="417.3" width="1.1" height="1.1" fill="#333"/>
<rect x="131.7" y="409.6" width="1.1" height="1.1" fill="#333"/>
<rect x="133.6" y="421.7" width="1.1" height="1.1" fill="#333"/>
<rect x="135.2" y="411.6" width="1.1" height="1.1" fill="#333"/>
<rect x="132.2" y="412.5" width="1.1" height="1.1" fill="#333"/>
<rect x="113.9" y="403.5" width="1.1" height="1.1" fill="#333"/>
<rect x="113.0" y="406.7" width="1.1" height="1.1" fill="#333"/>
<rect x="115.4" y="412.8" width="1.1" height="1.1" fill="#333"/>
<rect x="130.6" y="413.6" width="1.1" height="1.1" fill="#333"/>
<rect x="122.7" y="415.9" width="1.1" height="1.1" fill="#333"/>
<rect x="119.4" y="412.1" width="1.1" height="1.1" fill="#333"/>
<rect x="132.2" y="410.8" width="1.1" height="1.1" fill="#333"/>
<rect x="115.9" y="421.0" width="1.1" height="1.1" fill="#333"/>
<rect x="131.2" y="410.1" width="1.1" height="1.1" fill="#333"/>
<rect x="121.3" y="413.5" width="1.1" height="1.1" fill="#333"/>
<rect x="127.7" y="407.2" width="1.1" height="1.1" fill="#333"/>
<rect x="110.9" y="406.9" width="1.1" height="1.1" fill="#333"/>
<rect x="133.0" y="405.5" width="1.1" height="1.1" fill="#333"/>
<rect x="123.8" y="406.6" width="1.1" height="1.1" fill="#333"/>
<rect x="116.7" y="406.1" width="1.1" height="1.1" fill="#333"/>
<rect x="122.2" y="406.0" width="1.1" height="1.1" fill="#333"/>
<rect x="111.6" y="404.9" width="1.1" height="1.1" fill="#333"/>
<rect x="115.6" y="412.7" width="1.1" height="1.1" fill="#333"/>
<rect x="112.5" y="403.1" width="1.1" height="1.1" fill="#333"/>
<rect x="123.5" y="411.0" width="1.1" height="1.1" fill="#333"/>
<rect x="130.7" y="403.6" width="1.1" height="1.1" fill="#333"/>
<rect x="122.2" y="410.7" width="1.1" height="1.1" fill="#333"/>
<rect x="111.6" y="422.4" width="1.1" height="1.1" fill="#333"/>
<rect x="117.0" y="404.5" width="1.1" height="1.1" fill="#333"/>
<rect x="124.2" y="406.0" width="1.1" height="1.1" fill="#333"/>
<rect x="128.4" y="409.7" width="1.1" height="1.1" fill="#333"/>
<rect x="114.3" y="403.7" width="1.1" height="1.1" fill="#333"/>
<rect x="131.4" y="408.2" width="1.1" height="1.1" fill="#333"/>
<rect x="133.1" y="412.1" width="1.1" height="1.1" fill="#333"/>
<rect x="137.2" y="408.8" width="1.1" height="1.1" fill="#333"/>
<rect x="117.9" y="408.0" width="1.1" height="1.1" fill="#333"/>
<rect x="133.9" y="415.5" width="1.1" height="1.1" fill="#333"/>
<rect x="120.6" y="404.5" width="1.1" height="1.1" fill="#333"/>
<rect x="130.1" y="422.5" width="1.1" height="1.1" fill="#333"/>
<rect x="127.6" y="402.7" width="1.1" height="1.1" fill="#333"/>
<rect x="110.2" y="402.1" width="29.40" height="21.60" rx="0" stroke="#222" stroke-width="1.1" fill="none"/>
<line x1="90" y1="402.3" x2="110.2" y2="402.3" stroke="#8c8c8c" stroke-width="1.1"/>
<line x1="90" y1="423.5" x2="110.2" y2="423.5" stroke="#8c8c8c" stroke-width="1.1"/>
<rect x="56.6" y="379.6" width="4.20" height="18.00" rx="0" stroke="#8c8c8c" stroke-width="1.1" fill="none"/>
<line x1="56.6" y1="392" x2="60.8" y2="392" stroke="#8c8c8c" stroke-width="1.1"/>
<rect x="56.8" y="428.2" width="4.20" height="17.30" rx="0" stroke="#8c8c8c" stroke-width="1.1" fill="none"/>
<line x1="56.8" y1="434.7" x2="61" y2="434.7" stroke="#8c8c8c" stroke-width="1.1"/>
<rect x="81" y="378.4" width="3.60" height="8.80" rx="0" stroke="#8c8c8c" stroke-width="1.1" fill="none"/>
<line x1="81" y1="382" x2="84.6" y2="382" stroke="#8c8c8c" stroke-width="1.1"/>
<rect x="81" y="438.3" width="3.40" height="9.00" rx="0" stroke="#8c8c8c" stroke-width="1.1" fill="none"/>
<line x1="81" y1="443.3" x2="84.4" y2="443.3" stroke="#8c8c8c" stroke-width="1.1"/>
<line x1="60.8" y1="386" x2="78.4" y2="386" stroke="#333" stroke-width="1.6"/>
<line x1="60.8" y1="387.7" x2="83" y2="387.7" stroke="#999" stroke-width="1.1"/>
<line x1="60.8" y1="392.4" x2="84.6" y2="392.4" stroke="#8c8c8c" stroke-width="1.1"/>
<line x1="61" y1="432.5" x2="85" y2="432.5" stroke="#8c8c8c" stroke-width="1.1"/>
<line x1="61" y1="437" x2="84" y2="437" stroke="#999" stroke-width="1.1"/>
<line x1="61" y1="439.5" x2="80.6" y2="439.5" stroke="#333" stroke-width="1.6"/>
<line x1="84.6" y1="387.2" x2="84.6" y2="438.3" stroke="#8c8c8c" stroke-width="1.1"/>
<line x1="69.2" y1="386" x2="69.2" y2="400" stroke="#8c8c8c" stroke-width="1.1"/>
<line x1="69.2" y1="424.3" x2="69.2" y2="439.5" stroke="#8c8c8c" stroke-width="1.1"/>
<circle cx="69.5" cy="412.2" r="12.2" stroke="#8a8a8a" stroke-width="1.3" fill="none"/>
<circle cx="69.5" cy="412.2" r="9.4" stroke="#222" stroke-width="1.5" fill="none"/>
<rect x="85.6" y="393" width="4.20" height="39.00" rx="0" stroke="#666" stroke-width="1.0" fill="none"/>
<line x1="86.8" y1="395" x2="86.8" y2="430" stroke="#999" stroke-width="1.1"/>
<path d="M107,423.7 V431.2 H121.7 V423.7 M107,431.2 L108.5,448.2 H120.3 L121.7,431.2" stroke="#8c8c8c" stroke-width="1.1" fill="none"/>
<path d="M110,448.2 V453.3 H118 V448.2" stroke="#8c8c8c" stroke-width="1.1" fill="none"/>
<line x1="110.5" y1="453.3" x2="110.5" y2="500" stroke="#8c8c8c" stroke-width="1.1"/>
<line x1="117.5" y1="453.3" x2="117.5" y2="500" stroke="#8c8c8c" stroke-width="1.1"/>
<line x1="125.6" y1="423.7" x2="125.9" y2="500" stroke="#8c8c8c" stroke-width="1.1"/>
<line x1="132.4" y1="423.7" x2="132.6" y2="500" stroke="#8c8c8c" stroke-width="1.1"/>
<line x1="404.7" y1="254.2" x2="538.6" y2="254.2" stroke="#8c8c8c" stroke-width="1.1"/>
<polygon points="404.70,254.20 411.00,252.80 411.00,255.60" fill="#111"/>
<polygon points="471.30,254.20 465.00,255.60 465.00,252.80" fill="#111"/>
<polygon points="471.30,254.20 477.60,252.80 477.60,255.60" fill="#111"/>
<polygon points="538.60,254.20 532.30,255.60 532.30,252.80" fill="#111"/>
<line x1="404.7" y1="254.2" x2="404.7" y2="396" stroke="#8c8c8c" stroke-width="1.1"/>
<line x1="471.4" y1="254.2" x2="471.4" y2="396" stroke="#8c8c8c" stroke-width="1.1"/>
<line x1="538.6" y1="254.2" x2="538.6" y2="289.5" stroke="#8c8c8c" stroke-width="1.1"/>
<text x="427.6" y="252.6" font-size="12.5" text-anchor="start">120</text>
<text x="494.2" y="252.8" font-size="12.5" text-anchor="start">120</text>
<circle cx="404.6" cy="415.5" r="19.5" stroke="#6a6a6a" stroke-width="1.0" fill="none"/>
<circle cx="404.6" cy="415.6" r="11.35" stroke="#333" stroke-width="1.25" fill="none"/>
<circle cx="471.6" cy="415.6" r="19.8" stroke="#6a6a6a" stroke-width="1.0" fill="none"/>
<circle cx="471.6" cy="415.6" r="11.35" stroke="#333" stroke-width="1.25" fill="none"/>
<line x1="353.3" y1="391.3" x2="385.8" y2="406.7" stroke="#8c8c8c" stroke-width="1.1"/>
<polygon points="385.80,406.70 379.51,405.26 380.71,402.73" fill="#111"/>
<text x="0" y="0" font-size="12.5" text-anchor="middle" transform="translate(365.4,395.6) rotate(25.4)">&#216;70</text>
<line x1="434" y1="386" x2="462" y2="408.5" stroke="#8c8c8c" stroke-width="1.1"/>
<polygon points="462.00,408.50 456.21,405.64 457.97,403.46" fill="#111"/>
<text x="0" y="0" font-size="12.5" text-anchor="middle" transform="translate(445,392.7) rotate(39.5)">&#216;38</text>
<line x1="530.5" y1="276.3" x2="577" y2="276.3" stroke="#8c8c8c" stroke-width="1.1"/>
<polygon points="530.50,276.30 536.80,274.90 536.80,277.70" fill="#111"/>
<polygon points="546.40,276.30 540.10,277.70 540.10,274.90" fill="#111"/>
<line x1="530.5" y1="276.3" x2="530.5" y2="405.3" stroke="#8c8c8c" stroke-width="1.1"/>
<line x1="546.4" y1="276.3" x2="546.4" y2="405.3" stroke="#8c8c8c" stroke-width="1.1"/>
<line x1="530.5" y1="290.2" x2="546.4" y2="290.2" stroke="#444" stroke-width="1.7"/>
<line x1="530.5" y1="405.3" x2="546.4" y2="405.3" stroke="#8c8c8c" stroke-width="1.1"/>
<text x="552.6" y="275" font-size="12.5" text-anchor="start">&#216;28</text>
<circle cx="534.1" cy="300.1" r="1.15" stroke="none" stroke-width="0" fill="#111"/>
<circle cx="537.0500000000001" cy="300.1" r="1.15" stroke="none" stroke-width="0" fill="#111"/>
<circle cx="540.0" cy="300.1" r="1.15" stroke="none" stroke-width="0" fill="#111"/>
<circle cx="542.95" cy="300.1" r="1.15" stroke="none" stroke-width="0" fill="#111"/>
<circle cx="534.1" cy="302.63" r="1.15" stroke="none" stroke-width="0" fill="#111"/>
<circle cx="537.0500000000001" cy="302.63" r="1.15" stroke="none" stroke-width="0" fill="#111"/>
<circle cx="540.0" cy="302.63" r="1.15" stroke="none" stroke-width="0" fill="#111"/>
<circle cx="542.95" cy="302.63" r="1.15" stroke="none" stroke-width="0" fill="#111"/>
<circle cx="534.1" cy="305.16" r="1.15" stroke="none" stroke-width="0" fill="#111"/>
<circle cx="537.0500000000001" cy="305.16" r="1.15" stroke="none" stroke-width="0" fill="#111"/>
<circle cx="540.0" cy="305.16" r="1.15" stroke="none" stroke-width="0" fill="#111"/>
<circle cx="542.95" cy="305.16" r="1.15" stroke="none" stroke-width="0" fill="#111"/>
<circle cx="534.1" cy="307.69" r="1.15" stroke="none" stroke-width="0" fill="#111"/>
<circle cx="537.0500000000001" cy="307.69" r="1.15" stroke="none" stroke-width="0" fill="#111"/>
<circle cx="540.0" cy="307.69" r="1.15" stroke="none" stroke-width="0" fill="#111"/>
<circle cx="542.95" cy="307.69" r="1.15" stroke="none" stroke-width="0" fill="#111"/>
<circle cx="534.1" cy="310.22" r="1.15" stroke="none" stroke-width="0" fill="#111"/>
<circle cx="537.0500000000001" cy="310.22" r="1.15" stroke="none" stroke-width="0" fill="#111"/>
<circle cx="540.0" cy="310.22" r="1.15" stroke="none" stroke-width="0" fill="#111"/>
<circle cx="542.95" cy="310.22" r="1.15" stroke="none" stroke-width="0" fill="#111"/>
<circle cx="534.1" cy="312.75" r="1.15" stroke="none" stroke-width="0" fill="#111"/>
<circle cx="537.0500000000001" cy="312.75" r="1.15" stroke="none" stroke-width="0" fill="#111"/>
<circle cx="540.0" cy="312.75" r="1.15" stroke="none" stroke-width="0" fill="#111"/>
<circle cx="542.95" cy="312.75" r="1.15" stroke="none" stroke-width="0" fill="#111"/>
<circle cx="534.1" cy="315.28000000000003" r="1.15" stroke="none" stroke-width="0" fill="#111"/>
<circle cx="537.0500000000001" cy="315.28000000000003" r="1.15" stroke="none" stroke-width="0" fill="#111"/>
<circle cx="540.0" cy="315.28000000000003" r="1.15" stroke="none" stroke-width="0" fill="#111"/>
<circle cx="542.95" cy="315.28000000000003" r="1.15" stroke="none" stroke-width="0" fill="#111"/>
<circle cx="534.1" cy="317.81" r="1.15" stroke="none" stroke-width="0" fill="#111"/>
<circle cx="537.0500000000001" cy="317.81" r="1.15" stroke="none" stroke-width="0" fill="#111"/>
<circle cx="540.0" cy="317.81" r="1.15" stroke="none" stroke-width="0" fill="#111"/>
<circle cx="542.95" cy="317.81" r="1.15" stroke="none" stroke-width="0" fill="#111"/>
<circle cx="534.1" cy="320.34000000000003" r="1.15" stroke="none" stroke-width="0" fill="#111"/>
<circle cx="537.0500000000001" cy="320.34000000000003" r="1.15" stroke="none" stroke-width="0" fill="#111"/>
<circle cx="540.0" cy="320.34000000000003" r="1.15" stroke="none" stroke-width="0" fill="#111"/>
<circle cx="542.95" cy="320.34000000000003" r="1.15" stroke="none" stroke-width="0" fill="#111"/>
<circle cx="534.1" cy="322.87" r="1.15" stroke="none" stroke-width="0" fill="#111"/>
<circle cx="537.0500000000001" cy="322.87" r="1.15" stroke="none" stroke-width="0" fill="#111"/>
<circle cx="540.0" cy="322.87" r="1.15" stroke="none" stroke-width="0" fill="#111"/>
<circle cx="542.95" cy="322.87" r="1.15" stroke="none" stroke-width="0" fill="#111"/>
<circle cx="534.1" cy="325.40000000000003" r="1.15" stroke="none" stroke-width="0" fill="#111"/>
<circle cx="537.0500000000001" cy="325.40000000000003" r="1.15" stroke="none" stroke-width="0" fill="#111"/>
<circle cx="540.0" cy="325.40000000000003" r="1.15" stroke="none" stroke-width="0" fill="#111"/>
<circle cx="542.95" cy="325.40000000000003" r="1.15" stroke="none" stroke-width="0" fill="#111"/>
<circle cx="534.1" cy="327.93" r="1.15" stroke="none" stroke-width="0" fill="#111"/>
<circle cx="537.0500000000001" cy="327.93" r="1.15" stroke="none" stroke-width="0" fill="#111"/>
<circle cx="540.0" cy="327.93" r="1.15" stroke="none" stroke-width="0" fill="#111"/>
<circle cx="542.95" cy="327.93" r="1.15" stroke="none" stroke-width="0" fill="#111"/>
<circle cx="534.1" cy="330.46000000000004" r="1.15" stroke="none" stroke-width="0" fill="#111"/>
<circle cx="537.0500000000001" cy="330.46000000000004" r="1.15" stroke="none" stroke-width="0" fill="#111"/>
<circle cx="540.0" cy="330.46000000000004" r="1.15" stroke="none" stroke-width="0" fill="#111"/>
<circle cx="542.95" cy="330.46000000000004" r="1.15" stroke="none" stroke-width="0" fill="#111"/>
<line x1="518" y1="290" x2="518" y2="405.3" stroke="#8c8c8c" stroke-width="1.1"/>
<polygon points="518.00,290.00 519.40,296.30 516.60,296.30" fill="#111"/>
<polygon points="518.00,405.30 516.60,399.00 519.40,399.00" fill="#111"/>
<line x1="518" y1="289.9" x2="530.5" y2="289.9" stroke="#8c8c8c" stroke-width="1.1"/>
<line x1="518" y1="405.3" x2="530.5" y2="405.3" stroke="#8c8c8c" stroke-width="1.1"/>
<text x="0" y="0" font-size="12.5" text-anchor="middle" transform="translate(516.5,347.3) rotate(-90)">207</text>
<path d="M530.5,398.3 A19.8,18.3 0 0 0 518.4,415.5 A19.8,18.3 0 0 0 558,415.5 A19.8,18.3 0 0 0 546.4,398.3" stroke="#777" stroke-width="1.1" fill="none"/>
<ellipse cx="538.4" cy="415.6" rx="9.25" ry="7.6" stroke="#555" stroke-width="1.1" fill="none"/>
<rect x="534.0" y="406.8" width="8.80" height="15.60" rx="0" stroke="none" stroke-width="0" fill="#fff"/>
<line x1="533.3" y1="408" x2="533.3" y2="423" stroke="#333" stroke-width="1.3"/>
<line x1="543.4" y1="408" x2="543.4" y2="423" stroke="#666" stroke-width="1.2"/>
<line x1="533.3" y1="422.4" x2="543.4" y2="422.4" stroke="#999" stroke-width="1.5"/>
<line x1="535" y1="427.2" x2="541.6" y2="427.2" stroke="#aaa" stroke-width="1.1"/>
<line x1="531.3" y1="423.5" x2="531.3" y2="451" stroke="#8c8c8c" stroke-width="1.1"/>
<line x1="545.1" y1="423.5" x2="545.1" y2="451" stroke="#8c8c8c" stroke-width="1.1"/>
<line x1="535.1" y1="427.2" x2="535.1" y2="451" stroke="#8c8c8c" stroke-width="1.1"/>
<line x1="541.5" y1="427.2" x2="541.5" y2="451" stroke="#8c8c8c" stroke-width="1.1"/>
<line x1="531.3" y1="434.5" x2="535.1" y2="434.5" stroke="#8c8c8c" stroke-width="1.1"/>
<line x1="541.5" y1="434.5" x2="545.1" y2="434.5" stroke="#8c8c8c" stroke-width="1.1"/>
<line x1="534.3" y1="451" x2="530.8" y2="500" stroke="#8c8c8c" stroke-width="1.1"/>
<line x1="542" y1="451" x2="538.5" y2="500" stroke="#8c8c8c" stroke-width="1.1"/>
<line x1="547.5" y1="411" x2="595" y2="390.5" stroke="#8c8c8c" stroke-width="1.1"/>
<polygon points="547.50,411.00 552.73,407.22 553.84,409.79" fill="#111"/>
<text x="0" y="0" font-size="12.5" text-anchor="middle" transform="translate(582.6,394.2) rotate(-23.3)">&#216;33</text>
</svg></div></body></html>
